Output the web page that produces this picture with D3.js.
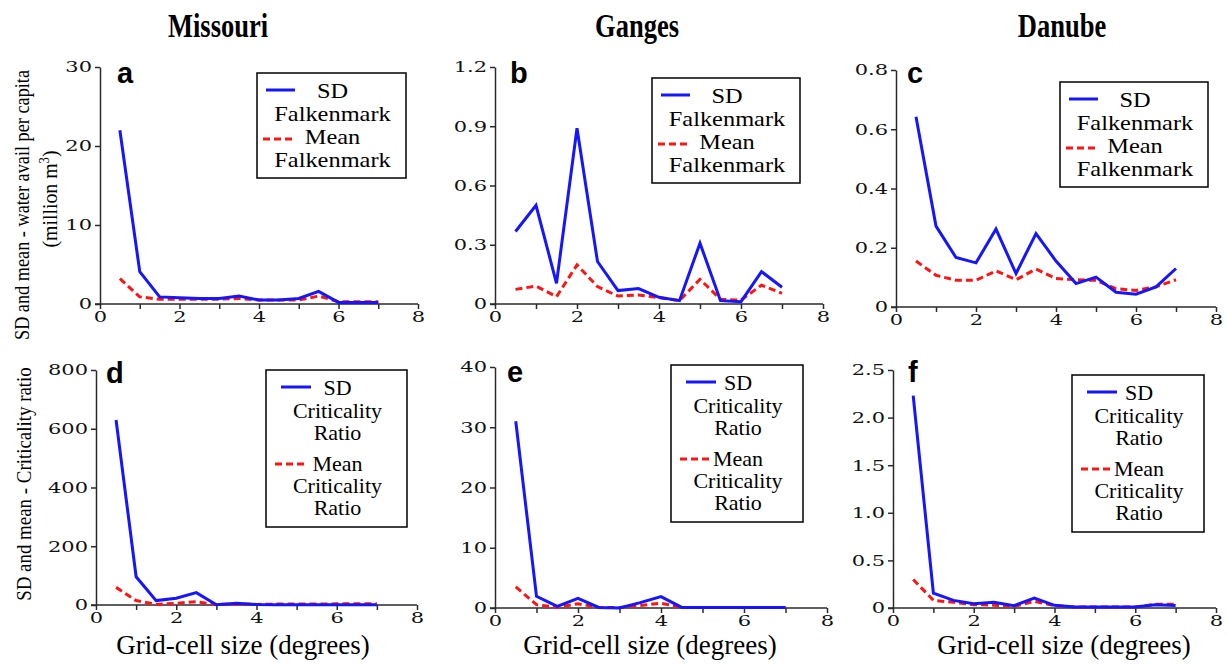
<!DOCTYPE html>
<html><head><meta charset="utf-8">
<script src="https://cdn.jsdelivr.net/npm/d3@7"></script>
<style>body{margin:0;background:#fff}</style>
</head><body><svg id="chart" width="1227" height="665"></svg>
<script>
// ---------- DATA ----------
const gridSizes = [0.5,1,1.5,2,2.5,3,3.5,4,4.5,5,5.5,6,6.5,7];
const rivers = ["Missouri","Ganges","Danube"];
const panelLetters = ["a","b","c","d","e","f"];
const missouriFalkSD   = [22.0,4.1,0.9,0.8,0.7,0.7,1.0,0.5,0.5,0.7,1.6,0.2,0.2,0.2];
const missouriFalkMean = [3.2,0.9,0.6,0.6,0.6,0.6,0.7,0.5,0.5,0.5,1.0,0.3,0.3,0.3];
const gangesFalkSD     = [0.367,0.50,0.105,0.89,0.215,0.068,0.078,0.034,0.017,0.308,0.017,0.012,0.164,0.085];
const gangesFalkMean   = [0.074,0.091,0.037,0.198,0.088,0.040,0.046,0.032,0.017,0.125,0.024,0.020,0.095,0.054];
const danubeFalkSD     = [0.642,0.273,0.167,0.149,0.263,0.113,0.248,0.155,0.079,0.101,0.050,0.043,0.068,0.130];
const danubeFalkMean   = [0.155,0.107,0.090,0.090,0.122,0.092,0.128,0.096,0.092,0.090,0.062,0.056,0.068,0.092];
const missouriCritSD   = [630,96,15,23,42,1,6,2,1,1,1,1,1,1];
const missouriCritMean = [60,15,2,6,11,2,3,2,3,3,3,4,4,4];
const gangesCritSD     = [31.0,1.94,0.28,1.6,0.1,0.0,0.9,1.9,0.1,0.1,0.1,0.1,0.1,0.1];
const gangesCritMean   = [3.5,0.55,0.1,0.7,0.1,0.1,0.4,0.8,0.1,0.1,0.1,0.1,0.1,0.1];
const danubeCritSD     = [2.23,0.157,0.080,0.045,0.060,0.025,0.105,0.028,0.010,0.010,0.010,0.010,0.035,0.025];
const danubeCritMean   = [0.30,0.080,0.060,0.035,0.030,0.017,0.070,0.025,0.010,0.010,0.010,0.010,0.040,0.040];

const xTickValues = [0,1,2,3,4,5,6,7,8];
const xTickLabels = ["0","","2","","4","","6","","8"];
const yTicksA = [0,10,20,30];          const yLabelsA = ["0","10","20","30"];
const yTicksB = [0,0.3,0.6,0.9,1.2];   const yLabelsB = ["0","0.3","0.6","0.9","1.2"];
const yTicksC = [0,0.2,0.4,0.6,0.8];   const yLabelsC = ["0","0.2","0.4","0.6","0.8"];
const yTicksD = [0,200,400,600,800];   const yLabelsD = ["0","200","400","600","800"];
const yTicksE = [0,10,20,30,40];       const yLabelsE = ["0","10","20","30","40"];
const yTicksF = [0,0.5,1.0,1.5,2.0,2.5]; const yLabelsF = ["0","0.5","1.0","1.5","2.0","2.5"];

const legendFalkSD   = ["SD","Falkenmark"];
const legendFalkMean = ["Mean","Falkenmark"];
const legendCritSD   = ["SD","Criticality","Ratio"];
const legendCritMean = ["Mean","Criticality","Ratio"];
const yTitleTop1 = "SD and mean - water avail per capita";
const yTitleTop2 = "(million m";
const yTitleBottom = "SD and mean - Criticality ratio";
const xTitle = "Grid-cell size (degrees)";

// ---------- LAYOUT ----------
const panels = [
  {sd:missouriFalkSD, mean:missouriFalkMean, yt:yTicksA, yl:yLabelsA, xr:[100,418], yr:[304,67], lg:[257,73,149,105], lp:[117,83], row:0},
  {sd:gangesFalkSD,   mean:gangesFalkMean,   yt:yTicksB, yl:yLabelsB, xr:[495,823], yr:[304,67], lg:[652,78,148,105], lp:[510,83], row:0},
  {sd:danubeFalkSD,   mean:danubeFalkMean,   yt:yTicksC, yl:yLabelsC, xr:[896,1216], yr:[307,70], lg:[1060,82,148,105], lp:[907,83], row:0},
  {sd:missouriCritSD, mean:missouriCritMean, yt:yTicksD, yl:yLabelsD, xr:[96,417], yr:[605,370], lg:[266,370,141,157], lp:[106,383], row:1},
  {sd:gangesCritSD,   mean:gangesCritMean,   yt:yTicksE, yl:yLabelsE, xr:[495,827], yr:[608,367], lg:[671,365,132,157], lp:[507,382], row:1},
  {sd:danubeCritSD,   mean:danubeCritMean,   yt:yTicksF, yl:yLabelsF, xr:[893,1216], yr:[608,370], lg:[1072,375,132,157], lp:[908,382], row:1}
];

const svg = d3.select("#chart");
svg.append("rect").attr("width",1227).attr("height",665).attr("fill","#fff");

const serif = "'Liberation Serif','Times New Roman',serif";
const tickFont = "'DejaVu Serif',serif";
const axisColor = "#2a2a2a";
const blue = "#1515ff", red = "#ff1414";

// titles
const titleX = [218,637,1062];
rivers.forEach((r,i)=>{
  svg.append("text")
    .attr("transform",`translate(${titleX[i]},37) scale(0.78,1)`)
    .attr("text-anchor","middle")
    .attr("font-family",serif).attr("font-weight","bold").attr("font-size",34)
    .attr("fill","#000").text(r);
});

function styleTicks(g, sx){
  g.selectAll("text").each(function(){
    const t = d3.select(this);
    const x = +t.attr("x") || 0;
    t.attr("x",0).attr("transform",`translate(${x},0) scale(${sx},1)`)
     .attr("font-family",tickFont).attr("font-size",15).attr("fill","#111");
  });
  g.selectAll("path,line").attr("stroke",axisColor).attr("stroke-width",1.5);
}

panels.forEach((p,i)=>{
  const x = d3.scaleLinear().domain([0,8]).range(p.xr);
  const y = d3.scaleLinear().domain([p.yt[0], p.yt[p.yt.length-1]]).range(p.yr);
  const g = svg.append("g");

  const gx = g.append("g").attr("transform",`translate(0,${p.yr[0]})`)
    .call(d3.axisBottom(x).tickValues(xTickValues).tickFormat((d,k)=>xTickLabels[k]).tickSize(5).tickSizeOuter(0).tickPadding(2));
  styleTicks(gx, 1.4);
  const gy = g.append("g").attr("transform",`translate(${p.xr[0]},0)`)
    .call(d3.axisLeft(y).tickValues(p.yt).tickFormat((d,k)=>p.yl[k]).tickSize(5).tickSizeOuter(0).tickPadding(3));
  styleTicks(gy, 1.4);
  gx.select(".domain").remove();
  gx.append("line").attr("x1",x(0)-5).attr("x2",x(8)).attr("y1",0).attr("y2",0)
    .attr("stroke",axisColor).attr("stroke-width",1.5);

  const line = d3.line().x((d,k)=>x(gridSizes[k])).y(d=>y(d));
  g.append("path").datum(p.mean).attr("d",line).attr("fill","none")
    .attr("stroke",red).attr("stroke-width",3).attr("stroke-dasharray","7,4");
  g.append("path").datum(p.sd).attr("d",line).attr("fill","none")
    .attr("stroke",blue).attr("stroke-width",3);

  // panel letter
  g.append("text").attr("x",p.lp[0]).attr("y",p.lp[1])
    .attr("font-family","'Liberation Sans',Arial,sans-serif").attr("font-weight","bold")
    .attr("font-size",29).attr("fill","#000").text(panelLetters[i]);

  // legend
  const [lx,ly,lw,lh] = p.lg;
  const lg = g.append("g").attr("transform",`translate(${lx},${ly})`);
  lg.append("rect").attr("width",lw).attr("height",lh).attr("fill","#fff")
    .attr("stroke","#000").attr("stroke-width",1.5);
  const cx = lw/2 + 1;
  let entries, sx;
  if(p.row===0){
    sx = 1.22;
    entries = [
      {txt:legendFalkSD, color:blue, dash:null, ly:17, lx:[9,38], bl:[25,48]},
      {txt:legendFalkMean, color:red, dash:"7,4", ly:66, lx:[6,36], bl:[71,94]}
    ];
  } else {
    sx = 1.1;
    entries = [
      {txt:legendCritSD, color:blue, dash:null, ly:17, lx:[15,45], bl:[25,48,70]},
      {txt:legendCritMean, color:red, dash:"7,4", ly:94, lx:[9,40], bl:[101,123,145]}
    ];
  }
  entries.forEach(e=>{
    lg.append("line").attr("x1",e.lx[0]).attr("x2",e.lx[1]).attr("y1",e.ly).attr("y2",e.ly)
      .attr("stroke",e.color).attr("stroke-width",3).attr("stroke-dasharray",e.dash);
    e.txt.forEach((t,k)=>{
      lg.append("text").attr("transform",`translate(${cx},${e.bl[k]}) scale(${sx},1)`)
        .attr("text-anchor","middle").attr("font-family",serif).attr("font-size",20)
        .attr("fill","#000").text(t);
    });
  });
});

// y-axis titles
svg.append("text").attr("transform","translate(29,205) rotate(-90) scale(0.83,1)")
  .attr("text-anchor","middle").attr("font-family",serif).attr("font-size",22).attr("fill","#000")
  .text(yTitleTop1);
const yt2 = svg.append("text").attr("transform","translate(57,199) rotate(-90) scale(0.9,1)")
  .attr("text-anchor","middle").attr("font-family",serif).attr("font-size",22).attr("fill","#000");
yt2.append("tspan").text(yTitleTop2);
yt2.append("tspan").attr("font-size",14).attr("dy",-8).text("3");
yt2.append("tspan").attr("dy",8).text(")");
svg.append("text").attr("transform","translate(31,484) rotate(-90) scale(0.86,1)")
  .attr("text-anchor","middle").attr("font-family",serif).attr("font-size",22).attr("fill","#000")
  .text(yTitleBottom);

// x-axis titles
[243,650,1064].forEach(cx=>{
  svg.append("text").attr("x",cx).attr("y",654).attr("text-anchor","middle")
    .attr("font-family",serif).attr("font-size",27).attr("fill","#000").text(xTitle);
});
</script></body></html>
